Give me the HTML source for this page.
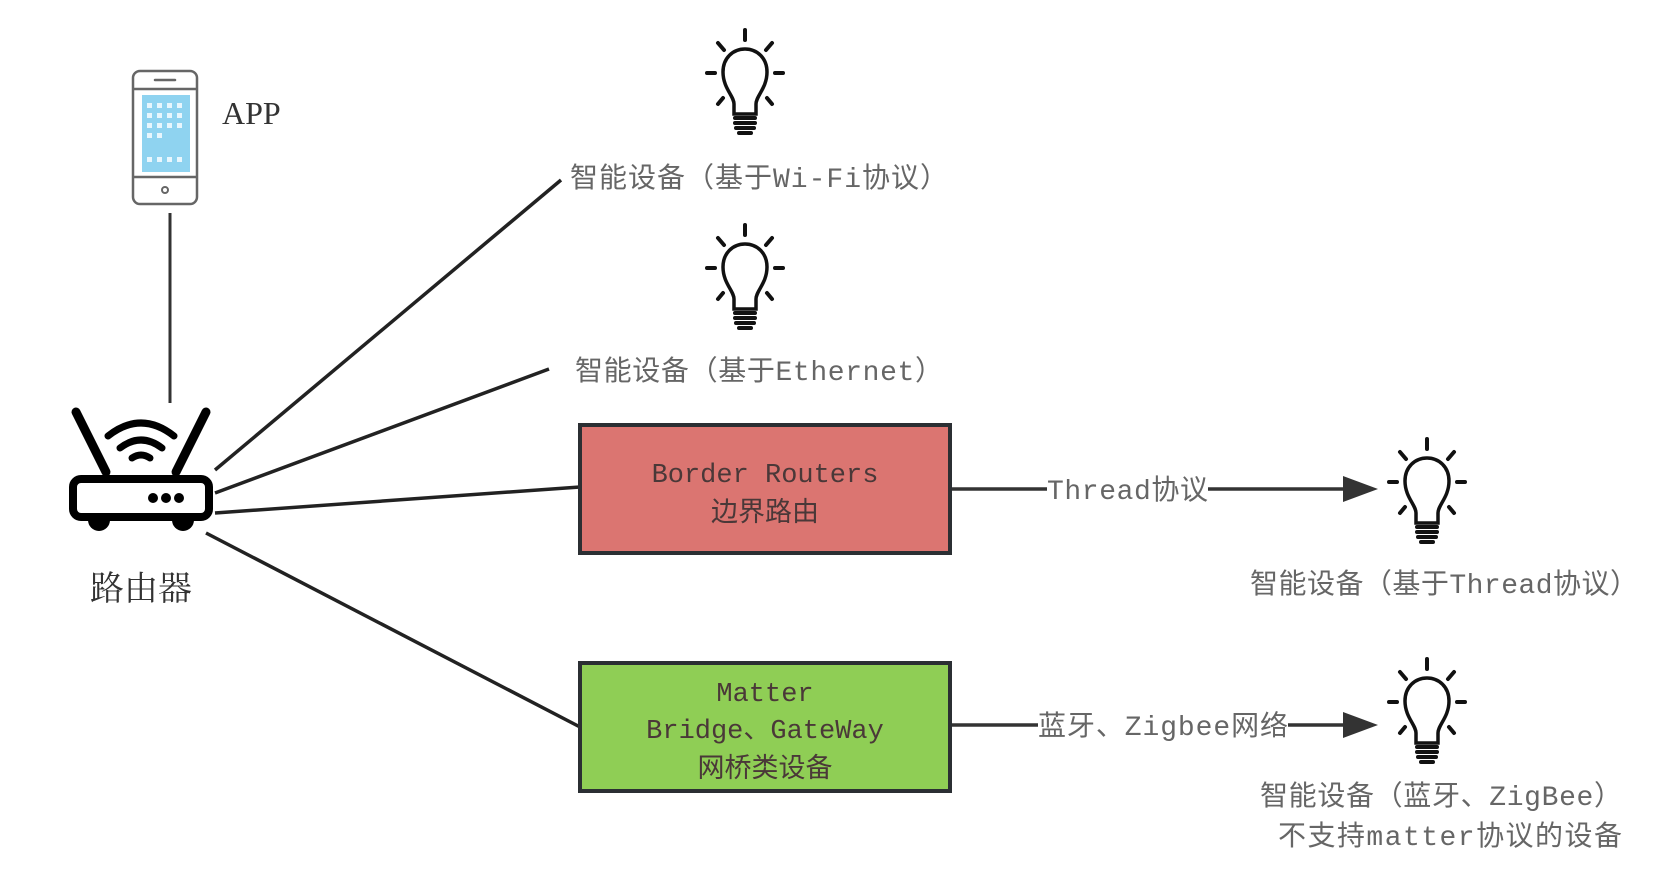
<!DOCTYPE html>
<html><head><meta charset="utf-8"><style>
html,body{margin:0;padding:0;background:#fff;}
svg{display:block;}
.lbl{font-family:"Liberation Mono","Noto Sans CJK SC",monospace;fill:#666;font-size:28px;}
.box{font-family:"Liberation Mono","Noto Sans CJK SC",monospace;fill:#4a3838;font-size:27px;}
</style></head><body>
<svg width="1666" height="890" viewBox="0 0 1666 890" xmlns="http://www.w3.org/2000/svg">
<defs>
<g id="bulb">
  <!-- 80x110 box, origin top-left -->
  <g stroke="#111" stroke-width="4" stroke-linecap="round" fill="none">
    <line x1="40" y1="2" x2="40" y2="12"/>
    <line x1="13" y1="15" x2="19" y2="22"/>
    <line x1="67" y1="15" x2="61" y2="22"/>
    <line x1="2" y1="45" x2="10" y2="45"/>
    <line x1="70" y1="45" x2="78" y2="45"/>
    <line x1="13" y1="76" x2="18" y2="70"/>
    <line x1="67" y1="76" x2="62" y2="70"/>
    <path d="M29 86 L29 76 C29 68 18 60 18 44 C18 30 28 21 40 21 C52 21 62 30 62 44 C62 60 51 68 51 76 L51 86 Z" stroke-width="3.5"/>
    <line x1="30" y1="90" x2="50" y2="90"/>
    <line x1="30" y1="95" x2="50" y2="95"/>
    <line x1="31" y1="100" x2="49" y2="100"/>
    <line x1="34" y1="105" x2="46" y2="105"/>
  </g>
</g>
</defs>

<!-- phone -->
<rect x="133" y="71" width="64" height="133" rx="7" fill="#fff" stroke="#666" stroke-width="2.5"/>
<line x1="133" y1="89" x2="197" y2="89" stroke="#666" stroke-width="2.5"/>
<line x1="133" y1="177" x2="197" y2="177" stroke="#666" stroke-width="2.5"/>
<line x1="155" y1="80" x2="175" y2="80" stroke="#666" stroke-width="2.5" stroke-linecap="round"/>
<circle cx="165" cy="190" r="3" fill="none" stroke="#666" stroke-width="2"/>
<rect x="142" y="95" width="48" height="77" fill="#8fd3f0"/>
<g fill="#e8f6fd">
<rect x="147" y="103" width="5" height="5"/><rect x="157" y="103" width="5" height="5"/><rect x="167" y="103" width="5" height="5"/><rect x="177" y="103" width="5" height="5"/>
<rect x="147" y="113" width="5" height="5"/><rect x="157" y="113" width="5" height="5"/><rect x="167" y="113" width="5" height="5"/><rect x="177" y="113" width="5" height="5"/>
<rect x="147" y="123" width="5" height="5"/><rect x="157" y="123" width="5" height="5"/><rect x="167" y="123" width="5" height="5"/><rect x="177" y="123" width="5" height="5"/>
<rect x="147" y="133" width="5" height="5"/><rect x="157" y="133" width="5" height="5"/>
<rect x="147" y="157" width="5" height="5"/><rect x="157" y="157" width="5" height="5"/><rect x="167" y="157" width="5" height="5"/><rect x="177" y="157" width="5" height="5"/>
</g>
<text x="222" y="124" font-family="Liberation Serif,serif" font-size="32" fill="#333">APP</text>

<!-- phone-router line -->
<line x1="170" y1="213" x2="170" y2="403" stroke="#333" stroke-width="3"/>

<!-- router -->
<g stroke="#000" stroke-linecap="round" fill="none">
  <line x1="76" y1="412" x2="106" y2="472" stroke-width="9"/>
  <line x1="206" y1="412" x2="176" y2="472" stroke-width="9"/>
  <path d="M108 436 Q141 410 174 436" stroke-width="7"/>
  <path d="M120 448 Q141 432 162 448" stroke-width="7"/>
  <path d="M132 458 Q141 452 150 458" stroke-width="7"/>
  <rect x="73" y="479" width="136" height="38" rx="8" stroke-width="8" fill="#fff"/>
</g>
<circle cx="153" cy="498" r="5" fill="#000"/><circle cx="166" cy="498" r="5" fill="#000"/><circle cx="179" cy="498" r="5" fill="#000"/>
<path d="M88 520 a11 11 0 0 0 22 0 Z" fill="#000"/>
<path d="M172 520 a11 11 0 0 0 22 0 Z" fill="#000"/>
<text x="141" y="600" text-anchor="middle" font-family="Liberation Serif,'Noto Serif CJK SC',serif" font-size="34" fill="#333">路由器</text>

<!-- router lines -->
<g stroke="#222" stroke-width="3.5">
<line x1="215" y1="470" x2="561" y2="180"/>
<line x1="215" y1="493" x2="549" y2="369"/>
<line x1="215" y1="513" x2="580" y2="487"/>
<line x1="206" y1="533" x2="580" y2="727"/>
</g>

<!-- bulbs -->
<use href="#bulb" x="705" y="28"/>
<use href="#bulb" x="705" y="223"/>
<use href="#bulb" x="1387" y="437"/>
<use href="#bulb" x="1387" y="657"/>

<text class="lbl" x="570" y="187" textLength="378">智能设备（基于Wi-Fi协议）</text>
<text class="lbl" x="575" y="380" textLength="368">智能设备（基于Ethernet）</text>
<text class="lbl" x="1250" y="593" textLength="388">智能设备（基于Thread协议）</text>
<text class="lbl" x="1260" y="805" textLength="362">智能设备（蓝牙、ZigBee）</text>
<text class="lbl" x="1278" y="845" textLength="344">不支持matter协议的设备</text>

<!-- boxes -->
<rect x="580" y="425" width="370" height="128" fill="#db7571" stroke="#2b2f33" stroke-width="4"/>
<text class="box" x="765" y="482" text-anchor="middle">Border Routers</text>
<text class="box" x="765" y="521" text-anchor="middle" font-size="30">边界路由</text>
<rect x="580" y="663" width="370" height="128" fill="#8fce55" stroke="#2b2f33" stroke-width="4"/>
<text class="box" x="765" y="701" text-anchor="middle">Matter</text>
<text class="box" x="765" y="738" text-anchor="middle">Bridge、GateWay</text>
<text class="box" x="765" y="777" text-anchor="middle" font-size="30">网桥类设备</text>

<!-- arrows -->
<line x1="952" y1="489" x2="1345" y2="489" stroke="#333" stroke-width="3.5"/>
<polygon points="1343,476 1378,489 1343,502" fill="#333"/>
<rect x="1047" y="474" width="161" height="30" fill="#fff"/>
<text class="lbl" x="1047" y="499" textLength="161" font-size="26">Thread协议</text>

<line x1="952" y1="725" x2="1345" y2="725" stroke="#333" stroke-width="3.5"/>
<polygon points="1343,712 1378,725 1343,738" fill="#333"/>
<rect x="1038" y="710" width="250" height="30" fill="#fff"/>
<text class="lbl" x="1038" y="735" textLength="250" font-size="26">蓝牙、Zigbee网络</text>
</svg>
</body></html>
